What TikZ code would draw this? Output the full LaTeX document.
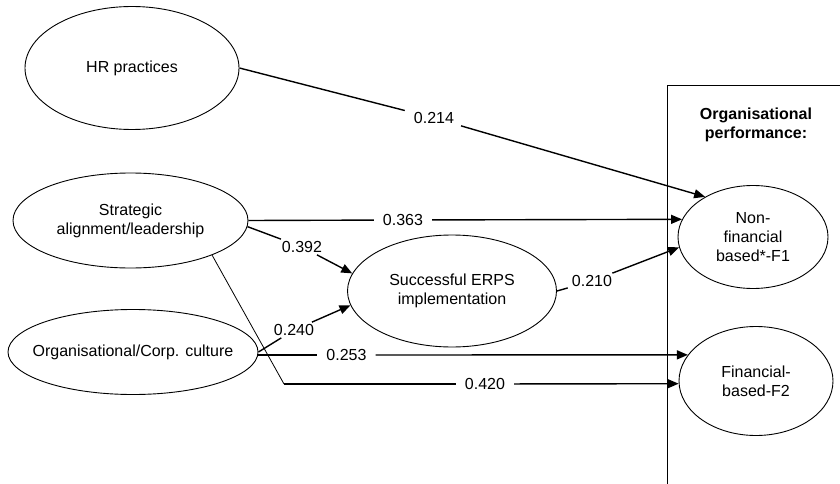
\documentclass[tikz,border=0pt]{standalone}
\usepackage{fontspec}
\setmainfont{Liberation Sans}
\usetikzlibrary{shapes.geometric,arrows.meta}
\begin{document}
\begin{tikzpicture}[x=1pt,y=-1pt,
  font=\fontsize{16}{19}\selectfont,
  latent/.style={draw, ellipse, inner sep=0pt, line width=0.9pt, align=center},
  lbl/.style={inner ysep=2pt, inner xsep=#1},
  lbl/.default=9pt,
  conn/.style={line width=1.4pt},
  arr/.style={conn, -{Triangle[length=11pt,width=9pt]}},
  thinline/.style={line width=0.8pt},
  panel/.style={line width=0.9pt}]
\useasboundingbox (0,0) rectangle (840,484);

% panel
\draw[panel] (840,85) -- (667,85) -- (667,484);
\node[font=\fontsize{16}{19}\selectfont\bfseries, align=center] (op) at (756,124.5) {Organisational\\performance:};

% latent variables
\node[latent, minimum width=214pt, minimum height=123pt] (hr) at (132,68) {HR practices};
\node[latent, minimum width=235pt, minimum height=95pt] (sa) at (130.5,220.5) {Strategic\\alignment/leadership};
\node[latent, inner xsep=-14pt, minimum width=250pt, minimum height=85pt] (oc) at (133,352) {Organisational/Corp. culture};
\node[latent, minimum width=209pt, minimum height=112pt] (erp) at (452,291) {Successful ERPS\\implementation};
\node[latent, minimum width=150pt, minimum height=103pt] (nf) at (753,237) {Non-\\financial\\based*-F1};
\node[latent, minimum width=154pt, minimum height=109pt] (fb) at (756,381) {Financial-\\based-F2};

% path labels
\node[lbl] (l214) at (434,118) {0.214};
\node[lbl] (l363) at (403,220) {0.363};
\node[lbl=4pt] (l392) at (302,247) {0.392};
\node[lbl=3pt] (l240) at (294,330) {0.240};
\node[lbl] (l253) at (346.5,355) {0.253};
\node[lbl] (l420) at (485,384) {0.420};
\node[lbl=4pt] (l210) at (592,281) {0.210};
\coordinate (k420) at (284,384);

% connectors
\draw[conn] (hr.east) -- (l214);
\draw[arr] (l214) -- (nf.140);

\draw[conn] (sa.east) -- (l363);
\draw[arr] (l363) -- (nf.166);

\draw[conn] (sa.-3) -- (l392);
\draw[arr] (l392) -- (erp.170);

\draw[conn] (oc.east) -- (l240);
\draw[arr] (l240) -- (erp.188);

\draw[conn] (oc.east |- l253) -- (l253);
\draw[arr] (l253) -- (fb.159);

\draw[thinline] (sa.-23) -- (k420);
\draw[conn] (k420) -- (l420);
\draw[arr] (l420) -- (fb.182);

\draw[conn] (erp.east) -- (l210);
\draw[arr] (l210) -- (nf.188);
\end{tikzpicture}
\end{document}
